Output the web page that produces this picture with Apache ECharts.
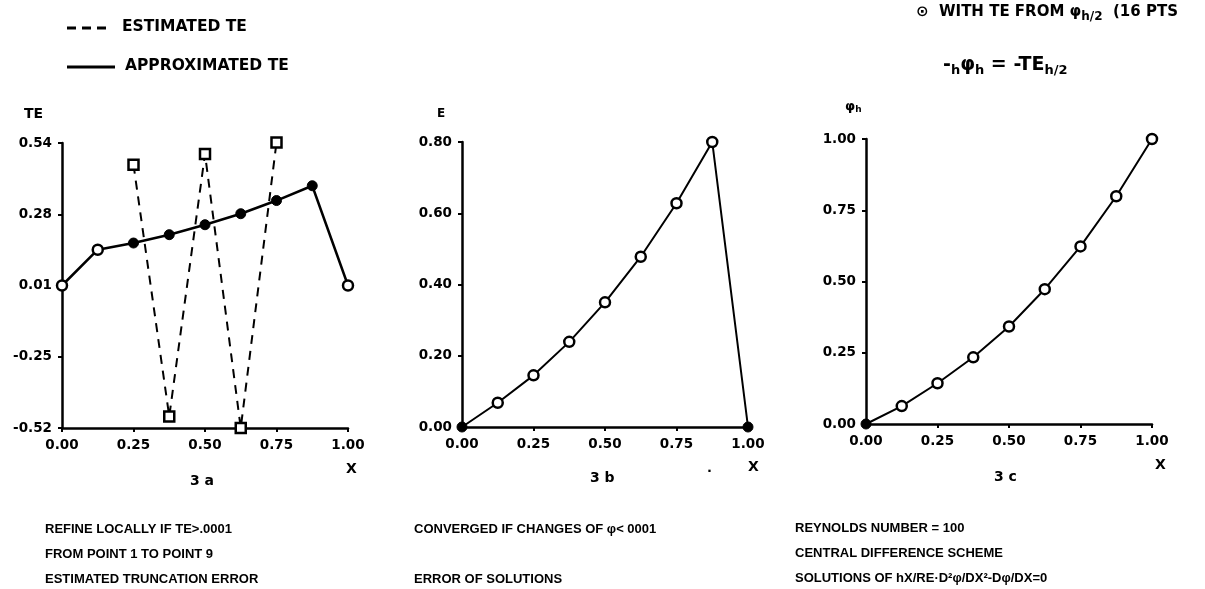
<!DOCTYPE html>
<html><head><meta charset="utf-8">
<script src="https://cdn.jsdelivr.net/npm/echarts@6/dist/echarts.min.js"></script>
<style>html,body{margin:0;padding:0;background:#fff}#c{width:1205px;height:589px}</style>
</head><body><div id="c"></div>
<script>
// ---- data ----
const xPts = [0, 0.125, 0.25, 0.375, 0.5, 0.625, 0.75, 0.875, 1.0];
const xTickVals = [0, 0.25, 0.5, 0.75, 1.0];
const xTickLabels = ['0.00', '0.25', '0.50', '0.75', '1.00'];

// 3a
const approxTE = [0.01, 0.143, 0.168, 0.199, 0.236, 0.277, 0.326, 0.381, 0.01];
const estX = [0.25, 0.375, 0.5, 0.625, 0.75];
const estTE = [0.459, -0.477, 0.499, -0.52, 0.542];
const yTickValsA = [-0.52, -0.255, 0.01, 0.275, 0.54];
const yTickLabelsA = ['-0.52', '-0.25', '0.01', '0.28', '0.54'];

// 3b
const errB = [0, 0.068, 0.145, 0.239, 0.350, 0.478, 0.628, 0.80, 0];
const yTickValsB = [0, 0.2, 0.4, 0.6, 0.8];
const yTickLabelsB = ['0.00', '0.20', '0.40', '0.60', '0.80'];

// 3c
const phiC = [0, 0.063, 0.143, 0.234, 0.342, 0.473, 0.623, 0.799, 1.0];
const yTickValsC = [0, 0.25, 0.5, 0.75, 1.0];
const yTickLabelsC = ['0.00', '0.25', '0.50', '0.75', '1.00'];

// ---- helpers ----
const F = 'DejaVu Sans';
const NF = 'Liberation Sans';
function pair(xs, ys) { return xs.map((x, i) => [x, ys[i]]); }
function labelFor(vals, labels) {
  return v => { let bi = 0, bd = 1e9; vals.forEach((t, i) => { const d = Math.abs(t - v); if (d < bd) { bd = d; bi = i; } }); return labels[bi]; };
}
function xAxis(gi) {
  return {
    type: 'value', gridIndex: gi, min: 0, max: 1,
    axisLine: { show: true, onZero: false, lineStyle: { color: '#000', width: 2.5 } },
    axisTick: { show: true, customValues: xTickVals, length: 4, lineStyle: { color: '#000', width: 2 } },
    axisLabel: { customValues: xTickVals, formatter: labelFor(xTickVals, xTickLabels), color: '#000', fontFamily: F, fontWeight: 'bold', fontSize: 13.5, margin: 10 },
    splitLine: { show: false }
  };
}
function yAxis(gi, vals, labels) {
  return {
    type: 'value', gridIndex: gi, min: vals[0], max: vals[vals.length - 1],
    axisLine: { show: true, onZero: false, lineStyle: { color: '#000', width: 2.5 } },
    axisTick: { show: true, customValues: vals, length: 4, lineStyle: { color: '#000', width: 2 } },
    axisLabel: { customValues: vals, formatter: labelFor(vals, labels), color: '#000', fontFamily: F, fontWeight: 'bold', fontSize: 13.5, margin: 10 },
    splitLine: { show: false }
  };
}
const ring = { color: '#fff', borderColor: '#000', borderWidth: 2.5 };
const dot = { color: '#000', borderColor: '#000', borderWidth: 1 };

function styled(data, styleFn) {
  return data.map((d, i) => ({ value: d, itemStyle: styleFn(i, data.length) }));
}

const txt = (x, y, s, o) => Object.assign({ type: 'text', left: x, top: y, style: Object.assign({ text: s, fill: '#000', fontFamily: NF, fontWeight: 'bold', fontSize: 13 }, o || {}) });

const option = {
  backgroundColor: '#fff',
  animation: false,
  grid: [
    { left: 62, top: 143, width: 286, height: 285 },
    { left: 462, top: 142, width: 286, height: 285 },
    { left: 866, top: 139, width: 286, height: 285 }
  ],
  xAxis: [xAxis(0), xAxis(1), xAxis(2)],
  yAxis: [yAxis(0, yTickValsA, yTickLabelsA), yAxis(1, yTickValsB, yTickLabelsB), yAxis(2, yTickValsC, yTickLabelsC)],
  series: [
    { name: 'ESTIMATED TE', type: 'line', xAxisIndex: 0, yAxisIndex: 0, data: pair(estX, estTE), clip: false,
      symbol: 'rect', symbolSize: 10, itemStyle: ring, lineStyle: { color: '#000', width: 2, type: [9, 7] }, z: 2 },
    { name: 'APPROXIMATED TE', type: 'line', xAxisIndex: 0, yAxisIndex: 0, clip: false,
      data: styled(pair(xPts, approxTE), (i, n) => (i === 0 || i === n - 1 || i === 1) ? ring : dot),
      symbol: 'circle', symbolSize: 10, lineStyle: { color: '#000', width: 2.5 }, z: 3 },
    { name: 'ERROR', type: 'line', xAxisIndex: 1, yAxisIndex: 1, clip: false,
      data: styled(pair(xPts, errB), (i, n) => (i === 0 || i === n - 1) ? dot : ring),
      symbol: 'circle', symbolSize: 10, lineStyle: { color: '#000', width: 2 }, z: 3 },
    { name: 'PHI', type: 'line', xAxisIndex: 2, yAxisIndex: 2, clip: false,
      data: styled(pair(xPts, phiC), (i) => i === 0 ? dot : ring),
      symbol: 'circle', symbolSize: 10, lineStyle: { color: '#000', width: 2 }, z: 3 }
  ],
  graphic: [
    // legend
    { type: 'line', shape: { x1: 67, y1: 28, x2: 112, y2: 28 }, style: { stroke: '#000', lineWidth: 3, lineDash: [9, 6] } },
    txt(122, 19, 'ESTIMATED TE', { fontFamily: F, fontSize: 15.5 }),
    { type: 'line', shape: { x1: 67, y1: 67, x2: 115, y2: 67 }, style: { stroke: '#000', lineWidth: 3 } },
    txt(125, 58, 'APPROXIMATED TE', { fontFamily: F, fontSize: 15.5 }),
    // top right note
    { type: 'text', left: 916, top: 5, style: { rich: { n: { fontFamily: F, fontWeight: 'bold', fontSize: 15, fill: '#000' }, s: { fontFamily: F, fontWeight: 'bold', fontSize: 12, fill: '#000', padding: [9, 0, 0, 0] } },
      text: '{n|⊙  WITH TE FROM φ}{s|h/2}{n|  (16 PTS}' } },
    { type: 'text', left: 943, top: 56, style: { rich: { n: { fontFamily: F, fontWeight: 'bold', fontSize: 19, fill: '#000' }, s: { fontFamily: F, fontWeight: 'bold', fontSize: 13, fill: '#000', padding: [10, 0, 0, 0] } },
      text: '{n|-}{s|h}{n|φ}{s|h}{n| = -TE}{s|h/2}' } },
    // axis names
    txt(24, 107, 'TE', { fontFamily: F, fontSize: 14 }),
    txt(437, 108, 'E', { fontFamily: F, fontSize: 12 }),
    { type: 'text', left: 845, top: 100, style: { rich: { n: { fontFamily: F, fontWeight: 'bold', fontSize: 13, fill: '#000' }, s: { fontFamily: F, fontWeight: 'bold', fontSize: 9, fill: '#000', padding: [7, 0, 0, 0] } }, text: '{n|φ}{s|h}' } },
    // X labels + captions
    txt(346, 462, 'X', { fontFamily: F, fontSize: 14 }),
    txt(748, 460, 'X', { fontFamily: F, fontSize: 14 }),
    txt(707, 462, '.', { fontFamily: F, fontSize: 13 }),
    txt(1155, 458, 'X', { fontFamily: F, fontSize: 14 }),
    txt(190, 474, '3 a', { fontFamily: F, fontSize: 14 }),
    txt(590, 471, '3 b', { fontFamily: F, fontSize: 14 }),
    txt(994, 470, '3 c', { fontFamily: F, fontSize: 14 }),
    // bottom notes
    txt(45, 523, 'REFINE LOCALLY IF TE>.0001'),
    txt(45, 548, 'FROM POINT 1 TO POINT 9'),
    txt(45, 573, 'ESTIMATED TRUNCATION ERROR'),
    txt(414, 523, 'CONVERGED IF CHANGES OF φ< 0001'),
    txt(414, 573, 'ERROR OF SOLUTIONS'),
    txt(795, 522, 'REYNOLDS NUMBER = 100'),
    txt(795, 547, 'CENTRAL DIFFERENCE SCHEME'),
    txt(795, 572, 'SOLUTIONS OF hX/RE·D²φ/DX²-Dφ/DX=0')
  ]
};
echarts.init(document.getElementById('c'), null, { renderer: 'canvas' }).setOption(option);
</script></body></html>
